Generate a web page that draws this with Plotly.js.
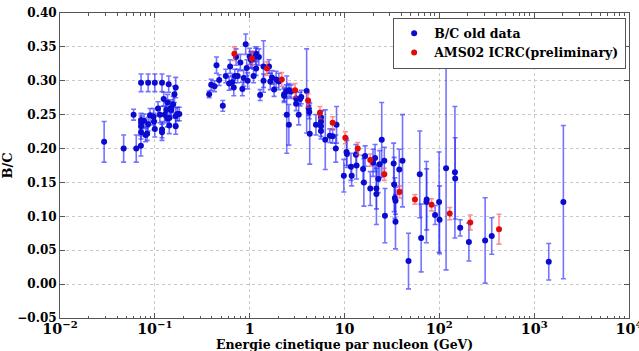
<!DOCTYPE html>
<html>
<head>
<meta charset="utf-8">
<script src="https://cdn.plot.ly/plotly-3.0.1.min.js"></script>
<style>html,body{margin:0;padding:0;background:#fff;}#chart{width:639px;height:351px;}</style>
</head>
<body>
<div id="chart"></div>
<script>
// B/C old data: kinetic energy per nucleon (GeV), ratio, error
const blueE = [0.0292,0.0469,0.0597,0.0637,0.0713,0.0716,0.0716,0.0716,0.0716,0.0716,0.077,0.080,0.083,0.085,0.085,0.089,0.097,0.098,0.100,0.100,0.108,0.113,0.119,0.119,0.119,0.124,0.127,0.132,0.136,0.136,0.140,0.142,0.142,0.147,0.149,0.156,0.161,0.166,0.166,0.166,0.173,0.181,
0.374,0.393,0.426,0.447,0.477,0.521,0.56,0.607,0.622,0.653,0.68,0.697,0.719,0.748,0.798,0.838,0.865,0.908,0.93,0.953,1.0,1.03,1.06,1.10,1.16,1.17,1.17,1.25,1.29,1.40,1.40,1.6,1.65,1.72,1.81,1.9,2.03,2.31,2.31,2.43,2.46,2.59,2.6,2.73,3.09,3.09,3.29,3.4,3.5,3.99,4.2,4.25,4.3,
5.0,5.65,5.65,5.65,5.65,6.27,7.0,7.5,8.24,8.1,9.84,10.5,10.6,11.7,11.9,13.2,13.4,15.7,16.0,16.5,18.7,20.0,21.0,21.7,21.7,22.7,23.5,24.7,26.3,26.7,33.0,33.4,34.0,34.5,34.5,37.8,40.9,47.3,62.2,64.3,73.1,73.6,90.2,99.4,100.5,117.8,146,147,166,205,304,357,1425,2032];
const blueVal = [0.210,0.200,0.250,0.200,0.204,0.297,0.242,0.238,0.233,0.224,0.241,0.220,0.222,0.297,0.236,0.249,0.247,0.240,0.229,0.297,0.259,0.250,0.297,0.228,0.224,0.273,0.250,0.257,0.244,0.268,0.295,0.234,0.245,0.260,0.257,0.265,0.280,0.290,0.233,0.248,0.251,0.251,
0.280,0.294,0.292,0.323,0.301,0.263,0.307,0.296,0.321,0.298,0.290,0.307,0.335,0.307,0.327,0.288,0.304,0.354,0.319,0.300,0.336,0.331,0.331,0.307,0.336,0.340,0.318,0.335,0.279,0.321,0.300,0.321,0.299,0.305,0.287,0.302,0.299,0.280,0.278,0.284,0.250,0.235,0.286,0.284,0.274,0.266,0.250,0.273,0.276,0.285,0.259,0.254,0.222,
0.235,0.246,0.240,0.233,0.226,0.213,0.219,0.218,0.235,0.200,0.160,0.195,0.192,0.173,0.160,0.191,0.175,0.170,0.150,0.189,0.141,0.179,0.186,0.141,0.133,0.155,0.177,0.213,0.182,0.101,0.178,0.147,0.127,0.123,0.092,0.169,0.182,0.034,0.162,0.068,0.121,0.125,0.102,0.121,0.095,0.171,0.165,0.156,0.083,0.062,0.0645,0.071,0.033,0.121];
const blueErr = [0.030,0.020,0.008,0.020,0.015,0.013,0.010,0.010,0.010,0.010,0.010,0.010,0.010,0.013,0.010,0.010,0.012,0.012,0.012,0.013,0.010,0.012,0.013,0.012,0.012,0.010,0.012,0.012,0.012,0.012,0.012,0.012,0.012,0.012,0.012,0.012,0.012,0.015,0.012,0.012,0.010,0.010,
0.005,0.008,0.008,0.012,0.008,0.008,0.010,0.010,0.010,0.010,0.012,0.010,0.012,0.010,0.012,0.010,0.012,0.015,0.012,0.012,0.012,0.012,0.012,0.010,0.012,0.010,0.010,0.012,0.008,0.038,0.010,0.010,0.012,0.010,0.010,0.012,0.012,0.010,0.010,0.010,0.057,0.030,0.010,0.010,0.010,0.010,0.015,0.010,0.010,0.062,0.010,0.010,0.045,
0.015,0.010,0.015,0.015,0.012,0.044,0.010,0.010,0.027,0.020,0.024,0.020,0.020,0.020,0.015,0.015,0.020,0.020,0.035,0.015,0.025,0.020,0.020,0.030,0.045,0.020,0.020,0.055,0.020,0.040,0.030,0.040,0.030,0.020,0.040,0.030,0.068,0.041,0.064,0.050,0.060,0.045,0.014,0.074,0.050,0.150,0.097,0.060,0.012,0.028,0.063,0.027,0.027,0.113];
// AMS02 ICRC (preliminary)
const redE = [0.69,1.06,1.52,2.18,3.01,4.13,5.51,7.5,10.2,13.8,18.7,26.3,38.0,55.3,82.8,128.7,212,426];
const redVal = [0.340,0.333,0.318,0.302,0.286,0.271,0.253,0.238,0.216,0.200,0.183,0.162,0.136,0.125,0.117,0.104,0.091,0.081];
const redErr = [0.010,0.010,0.010,0.010,0.010,0.010,0.009,0.009,0.009,0.009,0.009,0.009,0.009,0.007,0.009,0.009,0.011,0.022];

const seriesNames = ['B/C old data','AMS02 ICRC(preliminary)'];
const xTitle = 'Energie cinetique par nucleon (GeV)';
const yTitle = 'B/C';

const FONT = 'DejaVu Serif, Liberation Serif, serif';

const traces = [
  {x: blueE, y: blueVal, type: 'scatter', mode: 'markers', name: seriesNames[0],
   marker: {color: '#0b0bd0', size: 6},
   error_y: {type: 'data', array: blueErr, visible: true, color: 'rgba(30,30,255,0.62)', thickness: 1.6, width: 2.5}},
  {x: redE, y: redVal, type: 'scatter', mode: 'markers', name: seriesNames[1],
   marker: {color: '#e00a0a', size: 6},
   error_y: {type: 'data', array: redErr, visible: true, color: 'rgba(255,70,70,0.6)', thickness: 1.6, width: 2.5}}
];

const axisCommon = {
  showline: true, linecolor: '#555', linewidth: 1, mirror: 'allticks',
  ticks: 'inside', ticklen: 5, tickcolor: '#555',
  showgrid: true, gridcolor: '#c8c8c8', griddash: 'dot', gridwidth: 1,
  zeroline: false,
  tickfont: {family: FONT, size: 12, color: '#000', weight: 'bold'}
};

const layout = {
  width: 639, height: 351,
  margin: {l: 60, r: 10, t: 13, b: 33},
  paper_bgcolor: '#fff', plot_bgcolor: '#fff',
  showlegend: true,
  legend: {x: 0.995, y: 0.985, xanchor: 'right', yanchor: 'top',
    bgcolor: '#fff', bordercolor: '#555', borderwidth: 1,
    font: {family: FONT, size: 12.5, color: '#000', weight: 'bold'},
    itemwidth: 30, tracegroupgap: 0},
  xaxis: Object.assign({}, axisCommon, {
    type: 'log', range: [-2, 4], dtick: 1, exponentformat: 'power',
    ticklabeloverflow: 'allow', ticklabelstandoff: -2,
    tickfont: {family: FONT, size: 11.5, color: '#000', weight: 'bold'},
    minor: {ticks: 'inside', ticklen: 2.5, tickcolor: '#555', showgrid: false, dtick: 'D1'},
    automargin: false
  }),
  yaxis: Object.assign({}, axisCommon, {
    range: [-0.05, 0.40], dtick: 0.05, tickformat: '.2f',
    title: {text: yTitle, font: {family: FONT, size: 13, color: '#000', weight: 'bold'}, standoff: 6},
    automargin: false
  }),
  annotations: [{
    text: xTitle, xref: 'paper', yref: 'paper', x: 0.5, y: 0, xanchor: 'center', yanchor: 'bottom',
    yshift: -35, showarrow: false, borderpad: 0,
    font: {family: FONT, size: 12.5, color: '#000', weight: 'bold'}
  }]
};

Plotly.newPlot('chart', traces, layout, {displayModeBar: false, staticPlot: true});
</script>
</body>
</html>
